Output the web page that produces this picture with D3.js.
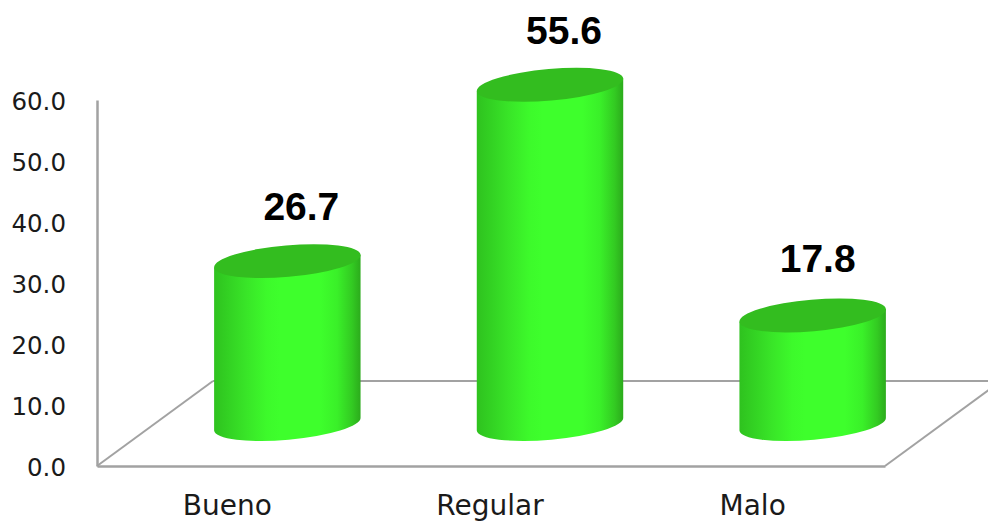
<!DOCTYPE html>
<html>
<head>
<meta charset="utf-8">
<script src="https://cdn.jsdelivr.net/npm/d3@7"></script>
<style>
  html, body { margin: 0; padding: 0; background: #fff; overflow: hidden; }
  svg { display: block; }
  .tick line { display: none; }
</style>
</head>
<body>
<div id="chart"></div>
<script>
var categories = ["Bueno", "Regular", "Malo"];
var values = [26.7, 55.6, 17.8];
var yTicks = [0, 10, 20, 30, 40, 50, 60];

var width = 988, height = 523;
var axisColor = "#a2a2a2";

var svg = d3.select("#chart").append("svg")
  .attr("width", width)
  .attr("height", height);

var x = d3.scaleBand().domain(categories).range([97, 885]);
var y = d3.scaleLinear().domain([0, 60]).range([466, 100]);

// floor depth
var depthX = 116, depthY = 85;
var bandOffset = 59;
var baseY = 424;
var rx = 73.5, ry = 15.8, tilt = -5;

// cylinder shading, left to right
var grad = svg.append("defs").append("linearGradient")
  .attr("id", "cyl")
  .attr("x1", "0%").attr("x2", "100%")
  .attr("y1", "0%").attr("y2", "0%");
[[0, "#2fc21f"], [0.1, "#33d223"], [0.22, "#39e528"], [0.36, "#3dfa2b"], [0.45, "#3eff2c"],
 [0.72, "#3eff2c"], [0.84, "#3af029"], [0.94, "#33cb22"], [1, "#2cab1c"]].forEach(function(s) {
  grad.append("stop").attr("offset", s[0]).attr("stop-color", s[1]);
});

// floor
var line = d3.line();
var x0 = x.range()[0], x1 = x.range()[1], y0 = y(0);
var floor = [
  [[x0, y0], [x0 + depthX, y0 - depthY]],
  [[x0 + depthX, y0 - depthY], [x1 + depthX, y0 - depthY]],
  [[x1, y0], [x1 + depthX, y0 - depthY]]
];
svg.selectAll("path.floor").data(floor).enter().append("path")
  .attr("class", "floor")
  .attr("d", line)
  .attr("fill", "none")
  .attr("stroke", axisColor)
  .attr("stroke-width", 2);

// axes
var yAxis = d3.axisLeft(y).tickValues(yTicks).tickSize(0).tickPadding(31)
  .tickFormat(d3.format(".1f"));
var gy = svg.append("g").attr("transform", "translate(97,0)").call(yAxis);
gy.select(".domain").attr("stroke", axisColor).attr("stroke-width", 2.5);
gy.selectAll("text")
  .attr("dy", "0.4em")
  .attr("font-family", "'DejaVu Sans'")
  .attr("font-size", 24.5)
  .attr("fill", "#1a1a1a");

// labels sit a bit higher than in the original so the descender is not cut
var xAxis = d3.axisBottom(x).tickSize(0).tickPadding(29);
var gx = svg.append("g").attr("transform", "translate(-1," + y0 + ")").call(xAxis);
gx.select(".domain").attr("transform", "translate(1,0)")
  .attr("stroke", axisColor).attr("stroke-width", 2.5);
gx.selectAll("text")
  .attr("font-family", "'DejaVu Sans'")
  .attr("font-size", 28)
  .attr("fill", "#1a1a1a");

// end points of a tilted ellipse on its long axis
var dx = rx * Math.cos(tilt * Math.PI / 180);
var dy = rx * Math.sin(tilt * Math.PI / 180);

function topY(d) {
  return baseY - (y(0) - y(d.value));
}

var bars = svg.selectAll("g.bar")
  .data(categories.map(function(c, i) { return { name: c, value: values[i] }; }))
  .enter().append("g")
  .attr("class", "bar")
  .attr("transform", function(d) {
    return "translate(" + (x(d.name) + x.bandwidth() / 2 + bandOffset) + ",0)";
  });

bars.append("path")
  .attr("fill", "url(#cyl)")
  .attr("d", function(d) {
    var top = topY(d);
    var p = d3.path();
    p.moveTo(-dx, top - dy);
    p.lineTo(dx, top + dy);
    p.lineTo(dx, baseY + dy);
    return p.toString() +
      "A" + rx + "," + ry + " " + tilt + " 0 1 " + (-dx) + "," + (baseY - dy) + "Z";
  });

bars.append("ellipse")
  .attr("rx", rx)
  .attr("ry", ry)
  .attr("fill", "#33bd1f")
  .attr("transform", function(d) {
    return "translate(0," + topY(d) + ") rotate(" + tilt + ")";
  });

bars.append("text")
  .attr("x", function(d) { return d.name === "Malo" ? 5 : 14; })
  .attr("y", function(d) { return topY(d) - (d.name === "Malo" ? 43 : 41); })
  .attr("text-anchor", "middle")
  .attr("font-family", "'Liberation Sans'")
  .attr("font-weight", "bold")
  .attr("font-size", 39)
  .attr("fill", "#000")
  .text(function(d) { return d.value.toFixed(1); });
</script>
</body>
</html>
